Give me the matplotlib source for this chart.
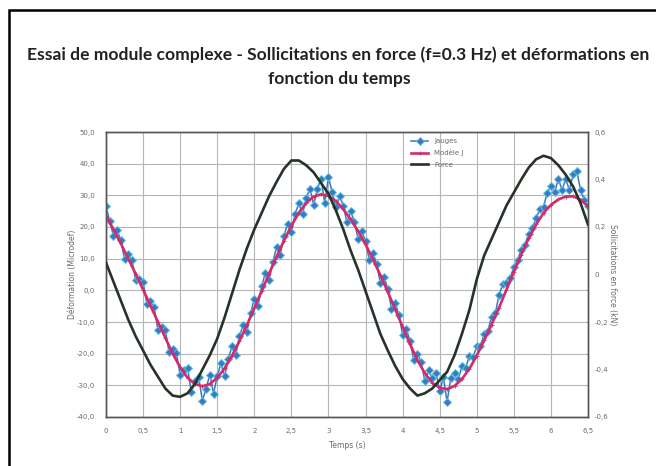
import matplotlib.pyplot as plt
from matplotlib.patches import Rectangle

# temps (s), pas de 0.05 s pour les jauges, 0.1 s pour modele et force
t_jauges = [i * 0.05 for i in range(131)]
t_mod = [i * 0.1 for i in range(66)]

jauges = [26.5, 21.9, 17.3, 19.0, 15.8, 9.9, 11.5, 9.6, 3.2, 3.7,
          2.7, -4.3, -3.3, -5.4, -12.5, -11.5, -12.5, -19.5, -18.5, -19.7,
          -26.8, -25.0, -24.6, -32.1, -28.6, -27.5, -34.8, -31.0, -26.6, -32.6,
          -27.1, -23.1, -27.1, -21.6, -17.6, -20.3, -14.5, -11.0, -13.0, -7.3,
          -2.6, -4.9, 1.3, 5.6, 3.3, 9.0, 13.6, 11.2, 17.2, 21.1,
          18.4, 24.0, 27.5, 24.0, 29.1, 32.1, 27.1, 32.0, 35.3, 27.6,
          35.8, 31.0, 26.2, 29.9, 26.6, 21.5, 24.9, 21.6, 16.2, 18.6,
          15.5, 9.7, 11.8, 8.3, 2.3, 4.2, 0.5, -5.8, -4.0, -7.8,
          -14.0, -12.3, -16.0, -22.0, -20.0, -22.6, -28.7, -25.2, -27.7, -26.0,
          -31.8, -27.5, -35.2, -27.7, -26.2, -28.1, -24.0, -24.4, -20.8, -21.2,
          -17.6, -17.7, -13.8, -12.8, -8.3, -7.2, -1.5, 1.9, 2.2, 4.0,
          7.3, 9.6, 12.8, 14.4, 17.9, 19.6, 22.8, 25.6, 26.4, 30.7,
          33.0, 30.9, 35.2, 31.7, 35.1, 31.7, 36.7, 37.6, 31.6, 28.6,
          26.6]

modele = [23.5, 19.3, 14.8, 10.0, 5.2, 0.2, -4.8, -10.0, -15.0, -20.0,
          -24.3, -27.6, -29.6, -30.3, -29.6, -27.6, -24.6, -20.6, -16.0, -11.0,
          -5.6, -0.2, 5.3, 10.6, 15.7, 20.4, 24.5, 27.6, 29.6, 30.3,
          29.8, 28.2, 25.6, 22.4, 18.7, 14.5, 9.8, 4.8, -0.5, -6.0,
          -11.5, -17.0, -22.0, -26.2, -29.2, -30.8, -31.2, -30.2, -28.0, -24.8,
          -20.6, -15.8, -10.8, -5.5, 0.2, 5.8, 11.3, 16.4, 20.8, 24.4,
          27.0, 28.7, 29.6, 29.7, 28.6, 26.6]

force = [0.05, -0.03, -0.11, -0.19, -0.26, -0.32, -0.38, -0.43, -0.48, -0.51,
         -0.515, -0.50, -0.46, -0.40, -0.34, -0.27, -0.18, -0.08, 0.02, 0.11,
         0.19, 0.26, 0.33, 0.39, 0.445, 0.48, 0.48, 0.46, 0.43, 0.385,
         0.34, 0.27, 0.19, 0.10, 0.02, -0.07, -0.16, -0.25, -0.32, -0.385,
         -0.44, -0.48, -0.51, -0.50, -0.48, -0.445, -0.41, -0.34, -0.25, -0.15,
         -0.02, 0.08, 0.15, 0.22, 0.29, 0.345, 0.40, 0.45, 0.485, 0.50,
         0.49, 0.46, 0.42, 0.37, 0.30, 0.21]

x_ticks = [i * 0.5 for i in range(14)]
x_labels = ['0', '0,5', '1', '1,5', '2', '2,5', '3', '3,5', '4', '4,5', '5', '5,5', '6', '6,5']
y_ticks = [50, 40, 30, 20, 10, 0, -10, -20, -30, -40]
y2_ticks = [0.6, 0.4, 0.2, 0, -0.2, -0.4, -0.6]

txt_grey = '#6a6a6a'

fig = plt.figure(figsize=(6.56, 4.66), dpi=100)
fig.patches.append(Rectangle((9 / 656, -0.1), 1.2, 1.1 - 10 / 466, transform=fig.transFigure,
                             fill=False, edgecolor='black', linewidth=1.8))

fig.text(0.516, 0.882, 'Essai de module complexe - Sollicitations en force (f=0.3 Hz) et déformations en',
         ha='center', va='center', fontsize=12.6, fontweight='bold', family='Lato', color='#222222')
fig.text(0.518, 0.831, 'fonction du temps', ha='center', va='center',
         fontsize=12.6, fontweight='bold', family='Lato', color='#222222')

ax = fig.add_axes([106 / 656, 1 - 417 / 466, 482 / 656, 285 / 466])
ax.plot(t_jauges, jauges, color='#3a78c2', lw=1.1, marker='D', ms=3.8,
        mfc='#3a78c2', mec='#5cc4e0', mew=0.7, label='Jauges', zorder=3)
ax.plot(t_mod, modele, color='#d42a6a', lw=1.9, marker='+', ms=3, mew=0.6,
        label='Modèle J', zorder=4)
ax.set_xlim(0, 6.5)
ax.set_ylim(-40, 50)
ax.set_xticks(x_ticks)
ax.set_xticklabels(x_labels)
ax.set_yticks(y_ticks)
ax.set_yticklabels([f'{v:.1f}'.replace('.', ',') for v in y_ticks])
ax.grid(True, color='#b5b5b5', lw=0.8)
ax.set_axisbelow(True)
ax.tick_params(labelsize=5, colors=txt_grey, length=0, pad=8)
ax.set_xlabel('Temps (s)', fontsize=5.5, color=txt_grey, labelpad=5)
ax.set_ylabel('Déformation (Microdef)', fontsize=5.5, color=txt_grey, labelpad=0)
for s in ax.spines.values():
    s.set_color('#555555')
    s.set_linewidth(1.0)

ax2 = ax.twinx()
ax2.plot(t_mod, force, color='#263326', lw=1.9, label='Force', zorder=5)
ax2.set_ylim(-0.6, 0.6)
ax2.set_yticks(y2_ticks)
ax2.set_yticklabels([('0' if v == 0 else f'{v:.1f}'.replace('.', ',')) for v in y2_ticks])
ax2.tick_params(labelsize=5, colors=txt_grey, length=0, pad=5)
ax2.set_ylabel('Sollicitations en force (kN)', fontsize=5.5, color=txt_grey,
               rotation=270, labelpad=6)
for s in ax2.spines.values():
    s.set_color('#555555')
    s.set_linewidth(1.0)

h1, l1 = ax.get_legend_handles_labels()
h2, l2 = ax2.get_legend_handles_labels()
ax2.legend(h1 + h2, l1 + l2, loc='upper left', bbox_to_anchor=(0.62, 1.0),
           frameon=False, fontsize=5, labelcolor=txt_grey, handlelength=2.5,
           borderpad=0.4, labelspacing=0.75)

fig.savefig('out.png', dpi=100)
